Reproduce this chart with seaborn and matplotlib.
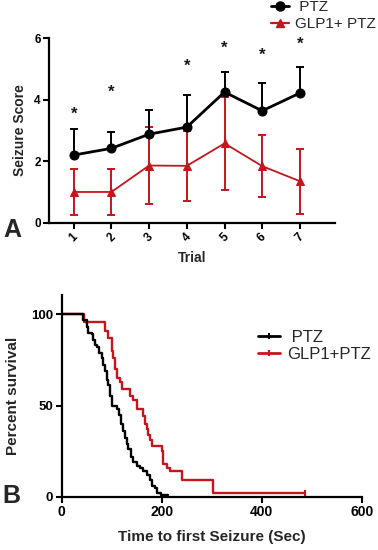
import numpy as np
import pandas as pd
import matplotlib
matplotlib.use("Agg")
import matplotlib.pyplot as plt
from matplotlib.lines import Line2D
import seaborn as sns

# ---------------- data ----------------
trials = [1, 2, 3, 4, 5, 6, 7]
ptz_mean = [2.2, 2.42, 2.88, 3.11, 4.25, 3.64, 4.22]
ptz_err_up = [0.85, 0.53, 0.79, 1.04, 0.64, 0.89, 0.83]
glp_mean = [1.0, 1.0, 1.86, 1.85, 2.58, 1.84, 1.35]
glp_err = [0.76, 0.76, 1.25, 1.13, 1.5, 1.0, 1.06]
sig_trials = [1, 2, 4, 5, 6, 7]
sig_y = [3.69, 4.4, 5.26, 5.84, 5.62, 5.97]
a_yticks = [0, 2, 4, 6]

ptz_time = [0, 42, 50, 53, 60, 63, 67, 71, 75, 80, 83, 87, 90, 93, 97, 100,
            110, 115, 118, 122, 127, 130, 133, 138, 143, 150, 157, 163, 170,
            176, 180, 187, 190, 198, 212]
ptz_surv = [100, 97, 93, 90, 89, 86, 83, 82, 79, 76, 72, 69, 64, 61, 55, 50,
            48, 45, 40, 36, 32, 29, 26, 22, 19, 17, 16, 14, 12,
            9, 6, 5, 2, 1, 1]
glp_time = [0, 45, 87, 93, 100, 103, 107, 110, 117, 120, 137, 143, 150, 163,
            167, 170, 173, 177, 180, 200, 203, 210, 217, 240, 303, 487]
glp_surv = [100, 96, 91, 87, 80, 76, 70, 65, 63, 59, 55, 53, 48, 44,
            40, 37, 34, 31, 28, 25, 18, 16, 14, 9, 2, 2]
b_xticks = [0, 200, 400, 600]
b_yticks = [0, 50, 100]

RED = "#C4161C"
BLACK = "#000000"

sns.set_theme(style="ticks")
plt.rcParams["font.family"] = ["Liberation Sans", "DejaVu Sans"]

W, H = 378, 550
fig = plt.figure(figsize=(W / 100, H / 100), dpi=100)

# ---------------- panel A ----------------
ax1 = fig.add_axes([49 / W, 1 - 222.7 / H, 286 / W, 184.4 / H])
df_ptz = pd.DataFrame({"trial": trials, "score": ptz_mean})
df_glp = pd.DataFrame({"trial": trials, "score": glp_mean})

ax1.errorbar(trials, glp_mean, yerr=glp_err, fmt="none", ecolor=RED,
             elinewidth=1.4, capsize=2.6, capthick=1.4, zorder=2)
sns.lineplot(data=df_glp, x="trial", y="score", color=RED, marker="^",
             markersize=5.5, markeredgecolor=RED, linewidth=1.3, ax=ax1,
             zorder=3)
ax1.errorbar(trials, ptz_mean, yerr=[np.zeros(len(trials)), ptz_err_up],
             fmt="none", ecolor=BLACK, elinewidth=1.4, capsize=2.6,
             capthick=1.4, zorder=4)
sns.lineplot(data=df_ptz, x="trial", y="score", color=BLACK, marker="o",
             markersize=6.5, markeredgecolor=BLACK, linewidth=2.0, ax=ax1,
             zorder=5)

fs_star = 12
for t, y in zip(sig_trials, sig_y):
    ax1.annotate("*", (t, y), xytext=(0, -0.58 * fs_star),
                 textcoords="offset points", ha="center", va="baseline",
                 fontsize=fs_star, fontweight="bold", color="#1a1a1a",
                 annotation_clip=False)

ax1.set_xlim(0.345, 7.93)
ax1.set_ylim(0, 6)
ax1.set_xticks(trials)
ax1.set_xticklabels([str(t) for t in trials], rotation=45,
                    fontsize=8.5, fontweight="bold")
ax1.set_yticks(a_yticks)
ax1.set_yticklabels([str(v) for v in a_yticks], fontsize=8.5, fontweight="bold")
ax1.set_xlabel("Trial", fontsize=10, fontweight="bold", labelpad=5)
ax1.set_ylabel("Seizure Score", fontsize=10, fontweight="bold", labelpad=5)
sns.despine(ax=ax1)
for s in ["left", "bottom"]:
    ax1.spines[s].set_linewidth(1.6)
    ax1.spines[s].set_color(BLACK)
ax1.tick_params(width=1.5, length=4, pad=2, colors=BLACK)

hA = [Line2D([], [], color=BLACK, lw=2.0, marker="o", markersize=6.5),
      Line2D([], [], color=RED, lw=1.6, marker="^", markersize=5.5)]
fig.legend(hA, [" PTZ", "GLP1+ PTZ"], loc="upper left",
           bbox_to_anchor=(271 / W, 1.0), frameon=False, fontsize=11,
           handlelength=1.2, handletextpad=0.35, labelspacing=0.22,
           borderpad=0, borderaxespad=0)

fig.text(3 / W, 1 - 237 / H, "A", fontsize=18, fontweight="bold",
         va="baseline", ha="left")

# ---------------- panel B ----------------
ax2 = fig.add_axes([61.7 / W, 1 - 496.7 / H, 300 / W, 201.7 / H])
df_b1 = pd.DataFrame({"time": ptz_time, "surv": ptz_surv})
df_b2 = pd.DataFrame({"time": glp_time, "surv": glp_surv})
sns.lineplot(data=df_b2, x="time", y="surv", color=RED, linewidth=1.7,
             drawstyle="steps-post", estimator=None, sort=False, ax=ax2,
             marker="|", markevery=[len(glp_time) - 1], markersize=5,
             markeredgewidth=1.5, markeredgecolor=RED)
sns.lineplot(data=df_b1, x="time", y="surv", color=BLACK, linewidth=1.7,
             drawstyle="steps-post", estimator=None, sort=False, ax=ax2)

ax2.set_xlim(0, 600)
ax2.set_ylim(0, 110.6)
ax2.set_xticks(b_xticks)
ax2.set_xticklabels([str(v) for v in b_xticks], fontsize=10, fontweight="bold")
ax2.set_yticks(b_yticks)
ax2.set_yticklabels([str(v) for v in b_yticks], fontsize=9.5, fontweight="bold")
ax2.set_xlabel("Time to first Seizure (Sec)", fontsize=11, fontweight="bold",
               labelpad=8)
ax2.set_ylabel("Percent survival", fontsize=11, fontweight="bold", labelpad=8)
sns.despine(ax=ax2)
for s in ["left", "bottom"]:
    ax2.spines[s].set_linewidth(1.6)
    ax2.spines[s].set_color(BLACK)
ax2.tick_params(width=1.5, length=4, pad=2, colors=BLACK)

hB = [Line2D([], [], color=BLACK, lw=2.0, marker="|", markersize=4,
             markeredgewidth=1.5),
      Line2D([], [], color=RED, lw=2.0, marker="|", markersize=4,
             markeredgewidth=1.5)]
fig.legend(hB, [" PTZ", "GLP1+PTZ"], loc="upper left",
           bbox_to_anchor=(258 / W, 1 - 330 / H), frameon=False, fontsize=12,
           handlelength=1.3, handletextpad=0.42, labelspacing=0.12,
           borderpad=0, borderaxespad=0)

fig.text(2 / W, 1 - 503 / H, "B", fontsize=18, fontweight="bold",
         va="baseline", ha="left")

fig.savefig("out.png", dpi=100)
